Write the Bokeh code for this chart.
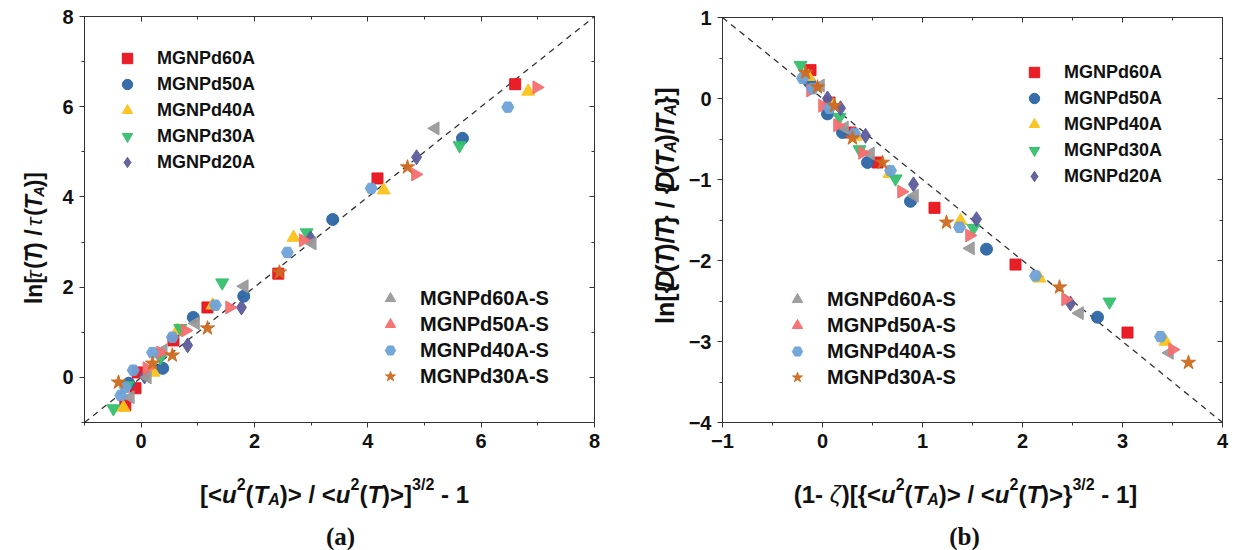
import numpy as np
from bokeh.plotting import figure
from bokeh.models import (Label, Legend, LegendItem, LinearAxis, SingleIntervalTicker, Range1d,
                          CustomJSTickFormatter)
from bokeh.layouts import row, column
from bokeh.embed import file_html
from bokeh.resources import INLINE

# ---------------- data: panel (a) ----------------
a_60A_x = [-0.28, -0.10, -0.06, 0.57, 1.17, 2.42, 4.17, 6.60]
a_60A_y = [-0.62, -0.24, 0.11, 0.82, 1.55, 2.30, 4.41, 6.50]
a_50A_x = [-0.22, 0.38, 0.92, 1.81, 3.38, 5.67]
a_50A_y = [-0.13, 0.20, 1.33, 1.80, 3.50, 5.30]
a_40A_x = [-0.31, 0.22, 0.64, 1.26, 2.69, 4.28, 6.83]
a_40A_y = [-0.67, 0.11, 1.04, 1.60, 3.10, 4.15, 6.34]
a_30A_x = [-0.49, -0.24, 0.34, 0.69, 1.43, 2.92, 5.62]
a_30A_y = [-0.69, -0.18, 0.44, 1.09, 2.10, 3.21, 5.14]
a_20A_x = [0.06, 0.82, 1.77, 2.99, 4.86]
a_20A_y = [0.02, 0.71, 1.55, 3.08, 4.88]
a_60AS_x = [-0.19, 0.11, 0.39, 0.96, 1.82, 3.02, 5.19]
a_60AS_y = [-0.44, 0.00, 0.60, 1.20, 2.02, 2.97, 5.52]
a_50AS_x = [0.10, 0.34, 0.78, 1.56, 2.86, 4.84, 6.98]
a_50AS_y = [0.20, 0.55, 1.04, 1.55, 3.04, 4.50, 6.43]
a_40AS_x = [-0.36, -0.28, -0.14, 0.20, 0.55, 1.31, 2.58, 4.06, 6.47]
a_40AS_y = [-0.40, -0.22, 0.16, 0.55, 0.89, 1.60, 2.77, 4.19, 5.99]
a_30AS_x = [-0.40, 0.20, 0.55, 1.17, 2.44, 4.70]
a_30AS_y = [-0.11, 0.31, 0.49, 1.09, 2.33, 4.66]

# ---------------- data: panel (b) ----------------
b_60A_x = [-0.12, 0.07, 0.28, 0.55, 1.12, 1.93, 3.05]
b_60A_y = [0.35, -0.05, -0.42, -0.79, -1.35, -2.05, -2.89]
b_50A_x = [-0.13, 0.05, 0.20, 0.45, 0.88, 1.64, 2.75]
b_50A_y = [0.20, -0.19, -0.42, -0.79, -1.27, -1.86, -2.70]
b_40A_x = [-0.14, 0.10, 0.33, 0.67, 1.38, 2.17, 3.43]
b_40A_y = [0.27, -0.08, -0.47, -0.93, -1.51, -2.22, -3.00]
b_30A_x = [-0.22, 0.17, 0.37, 0.73, 1.51, 2.87]
b_30A_y = [0.41, -0.23, -0.63, -0.99, -1.60, -2.51]
b_20A_x = [0.05, 0.18, 0.43, 0.91, 1.54, 2.48]
b_20A_y = [0.00, -0.12, -0.46, -1.06, -1.49, -2.53]
b_60AS_x = [-0.02, 0.22, 0.48, 0.92, 1.48, 2.57, 3.47]
b_60AS_y = [0.16, -0.36, -0.68, -1.20, -1.85, -2.65, -3.14]
b_50AS_x = [-0.12, 0.00, 0.15, 0.40, 0.79, 1.47, 2.43, 3.50]
b_50AS_y = [0.10, -0.09, -0.33, -0.67, -1.15, -1.69, -2.48, -3.10]
b_40AS_x = [-0.20, -0.10, 0.07, 0.32, 0.68, 1.37, 2.13, 3.38]
b_40AS_y = [0.25, 0.12, -0.12, -0.43, -0.89, -1.59, -2.19, -2.94]
b_30AS_x = [-0.17, -0.05, 0.12, 0.30, 0.60, 1.24, 2.37, 3.66]
b_30AS_y = [0.32, 0.14, -0.09, -0.49, -0.79, -1.53, -2.33, -3.26]

names = ["MGNPd60A", "MGNPd50A", "MGNPd40A", "MGNPd30A", "MGNPd20A",
         "MGNPd60A-S", "MGNPd50A-S", "MGNPd40A-S", "MGNPd30A-S"]
a_series = [(a_60A_x, a_60A_y), (a_50A_x, a_50A_y), (a_40A_x, a_40A_y), (a_30A_x, a_30A_y),
            (a_20A_x, a_20A_y), (a_60AS_x, a_60AS_y), (a_50AS_x, a_50AS_y),
            (a_40AS_x, a_40AS_y), (a_30AS_x, a_30AS_y)]
b_series = [(b_60A_x, b_60A_y), (b_50A_x, b_50A_y), (b_40A_x, b_40A_y), (b_30A_x, b_30A_y),
            (b_20A_x, b_20A_y), (b_60AS_x, b_60AS_y), (b_50AS_x, b_50AS_y),
            (b_40AS_x, b_40AS_y), (b_30AS_x, b_30AS_y)]

# axis ranges and the y = x / y = -x reference lines
a_range = [-1, 8]
b_xrange = [-1, 4]
b_yrange = [-4, 1]
a_ref_x, a_ref_y = [-1, 8], [-1, 8]
b_ref_x, b_ref_y = [-1, 4], [1, -4]

# ---------------- styles ----------------
styles = [
    dict(marker="square", color="#e8131b", size=11, angle=0.0),
    dict(marker="circle", color="#2c66a4", size=12, angle=0.0),
    dict(marker="triangle", color="#fbc31a", size=13, angle=0.0),
    dict(marker="inverted_triangle", color="#35c06d", size=13, angle=0.0),
    dict(marker="diamond", color="#5c5c9c", size=15, angle=0.0),
    dict(marker="triangle", color="#9a9a9a", size=13, angle=np.pi / 2),
    dict(marker="triangle", color="#f46f6f", size=13, angle=-np.pi / 2),
    dict(marker="hex", color="#6ea2d8", size=12, angle=0.0),
    dict(marker="star", color="#cd6a20", size=15, angle=0.0),
]

FONT = "Liberation Sans"
AXC = "#333333"
TXT = "#111111"

WID = {' ': .278, '[': .333, ']': .333, '<': .584, '>': .584, '(': .333, ')': .333,
       '/': .278, '-': .333, '{': .389, '}': .389, '1': .556, '2': .556, '3': .556,
       'u': .611, 'T': .611, 'A': .722, 'D': .722, 'l': .278, 'n': .611,
       'ζ': .5, 'τ': .5}


def tw(t, size):
    return sum(WID.get(c, .556) for c in t) * size


def chain_label(p, segs, size, center, base, vertical=False):
    """Compose a label from runs (normal / superscript / subscript) inside a text-only figure."""
    sub_size = round(size * 0.66)
    widths = []
    for s in segs:
        kind = s[2] if len(s) > 2 else "n"
        widths.append(tw(s[0], sub_size if kind != "n" else size))
    pos = center - sum(widths) / 2.0
    for s, w in zip(segs, widths):
        text, style = s[0], s[1]
        kind = s[2] if len(s) > 2 else "n"
        fs = sub_size if kind != "n" else size
        lead = tw(text[:len(text) - len(text.lstrip(" "))], fs)
        shown = text.strip(" ")
        shift = 0.0
        if kind == "sup":
            shift = size * 0.42
        elif kind == "sub":
            shift = -size * 0.22
        if vertical:
            lab = Label(x=base - shift, y=pos + lead, text=shown, angle=np.pi / 2,
                        text_align="left", text_baseline="alphabetic",
                        text_font=FONT, text_font_style=style, text_font_size=f"{fs}px",
                        text_color=TXT)
        else:
            lab = Label(x=pos + lead, y=base + shift, text=shown,
                        text_align="left", text_baseline="alphabetic",
                        text_font=FONT, text_font_style=style, text_font_size=f"{fs}px",
                        text_color=TXT)
        p.add_layout(lab)
        pos += w


def text_fig(w, h):
    f = figure(width=w, height=h, x_range=Range1d(0, w), y_range=Range1d(0, h),
               output_backend="svg", toolbar_location=None,
               x_axis_location=None, y_axis_location=None, min_border=0)
    f.xgrid.visible = False
    f.ygrid.visible = False
    f.outline_line_color = None
    f.background_fill_color = "white"
    f.border_fill_color = "white"
    return f


def style_axes(p, xt, yt):
    for ax, t in ((p.xaxis[0], xt), (p.yaxis[0], yt)):
        ax.ticker = t
        ax.axis_line_color = AXC
        ax.major_tick_line_color = AXC
        ax.minor_tick_line_color = AXC
        ax.major_tick_out = 5
        ax.major_tick_in = 0
        ax.minor_tick_out = 3
        ax.minor_tick_in = 0
        ax.major_label_text_font = FONT
        ax.major_label_text_font_style = "bold"
        ax.major_label_text_font_size = "20px"
        ax.major_label_text_color = TXT
        ax.major_label_standoff = 6
    for side, t in (("right", yt), ("above", xt)):
        ax = LinearAxis(ticker=t, formatter=CustomJSTickFormatter(code="return ''"))
        ax.axis_line_color = AXC
        ax.major_tick_line_color = AXC
        ax.minor_tick_line_color = AXC
        ax.major_tick_out = 0
        ax.major_tick_in = 5
        ax.minor_tick_out = 0
        ax.minor_tick_in = 3
        ax.major_label_standoff = 0
        p.add_layout(ax, side)


def make_legend(p, renderers, idx, loc, fsize):
    items = [LegendItem(label=names[i], renderers=[renderers[i]]) for i in idx]
    lg = Legend(items=items, location=loc, padding=0, margin=0, spacing=0,
                label_height=26, glyph_height=26, glyph_width=26, label_standoff=17,
                border_line_alpha=0, background_fill_alpha=0,
                label_text_font=FONT, label_text_font_style="bold",
                label_text_font_size=f"{fsize}px", label_text_color=TXT)
    p.add_layout(lg, "center")


def make_panel(series, xr, yr, refx, refy, xint, yint, width, mbl, mbr, mbt):
    p = figure(width=width, height=460, x_range=Range1d(*xr), y_range=Range1d(*yr),
               output_backend="svg", toolbar_location=None,
               min_border_left=mbl, min_border_right=mbr, min_border_top=mbt,
               min_border_bottom=38)
    p.xgrid.visible = False
    p.ygrid.visible = False
    p.outline_line_color = AXC
    p.outline_line_width = 1
    p.background_fill_color = "white"
    p.border_fill_color = "white"
    style_axes(p, SingleIntervalTicker(interval=xint, num_minor_ticks=2),
               SingleIntervalTicker(interval=yint, num_minor_ticks=2))
    p.line(refx, refy, line_color="#333333", line_width=1.3, line_dash="6 5")
    rs = []
    for (xs, ys), st in zip(series, styles):
        r = p.scatter(xs, ys, marker=st["marker"], size=st["size"], angle=st["angle"],
                      fill_color=st["color"], line_color=st["color"], fill_alpha=0.95,
                      line_alpha=0.95)
        rs.append(r)
    return p, rs


# ---------------- panel (a) ----------------
pa, ra = make_panel(a_series, a_range, a_range, a_ref_x, a_ref_y, 2, 2, 588, 32, 46, 16)
make_legend(pa, ra, [0, 1, 2, 3, 4], (30, 247), 18)
make_legend(pa, ra, [5, 6, 7, 8], (293, 33), 20)

ya = text_fig(52, 460)
chain_label(ya, [("ln[", "bold"), ("τ", "italic"), ("(", "bold"), ("T", "bold italic"),
                 (") / ", "bold"), ("τ", "italic"), ("(", "bold"), ("T", "bold italic"),
                 ("A", "bold italic", "sub"), (")]", "bold")],
            23, center=208, base=33, vertical=True)

xa = text_fig(640, 90)
chain_label(xa, [("[<", "bold"), ("u", "bold italic"), ("2", "bold", "sup"), ("(", "bold"),
                 ("T", "bold italic"), ("A", "bold italic", "sub"), (")> / <", "bold"),
                 ("u", "bold italic"), ("2", "bold", "sup"), ("(", "bold"), ("T", "bold italic"),
                 (")>]", "bold"), ("3/2", "bold", "sup"), (" - 1", "bold")],
            24, center=334, base=56)
xa.add_layout(Label(x=340, y=14, text="(a)", text_align="center", text_baseline="alphabetic",
                    text_font="Liberation Serif", text_font_style="bold",
                    text_font_size="25px", text_color=TXT))

# ---------------- panel (b) ----------------
pb, rb = make_panel(b_series, b_xrange, b_yrange, b_ref_x, b_ref_y, 1, 1, 554, 35, 17, 17)
make_legend(pb, rb, [0, 1, 2, 3, 4], (299, 233), 18)
make_legend(pb, rb, [5, 6, 7, 8], (62, 32), 20)

yb = text_fig(45, 460)
chain_label(yb, [("ln[{", "bold"), ("D", "bold italic"), ("(", "bold"), ("T", "bold italic"),
                 (")/", "bold"), ("T", "bold italic"), ("} / {", "bold"), ("D", "bold italic"),
                 ("(", "bold"), ("T", "bold italic"), ("A", "bold italic", "sub"), (")/", "bold"),
                 ("T", "bold italic"), ("A", "bold italic", "sub"), ("}]", "bold")],
            25, center=245, base=24, vertical=True)

xb = text_fig(599, 90)
chain_label(xb, [("(1- ", "bold"), ("ζ", "italic"), (")[{<", "bold"), ("u", "bold italic"),
                 ("2", "bold", "sup"), ("(", "bold"), ("T", "bold italic"),
                 ("A", "bold italic", "sub"), (")> / <", "bold"), ("u", "bold italic"),
                 ("2", "bold", "sup"), ("(", "bold"), ("T", "bold italic"), (")>}", "bold"),
                 ("3/2", "bold", "sup"), (" - 1]", "bold")],
            24, center=325, base=56)
xb.add_layout(Label(x=324, y=14, text="(b)", text_align="center", text_baseline="alphabetic",
                    text_font="Liberation Serif", text_font_style="bold",
                    text_font_size="25px", text_color=TXT))

layout = row(column(row(ya, pa), xa), column(row(yb, pb), xb))
open("out.html", "w").write(file_html(layout, INLINE))
